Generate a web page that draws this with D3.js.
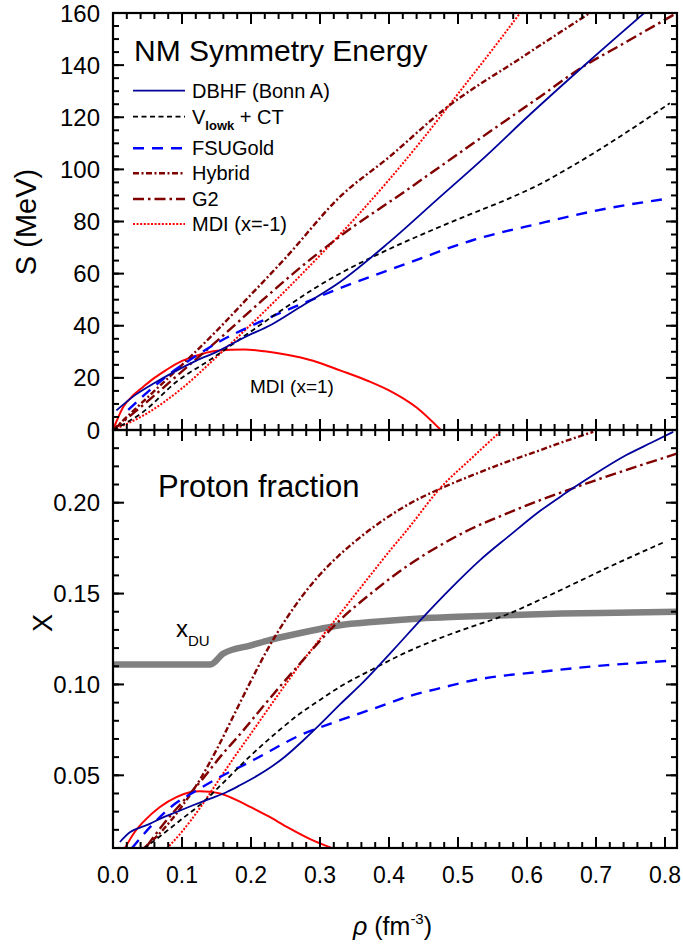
<!DOCTYPE html>
<html>
<head>
<meta charset="utf-8">
<script src="https://cdn.jsdelivr.net/npm/d3@7/dist/d3.min.js"></script>
<style>
  html, body { margin: 0; padding: 0; background: #fff; }
  svg { display: block; }
  text { font-family: Arial, "Liberation Sans", sans-serif; fill: #000; }
</style>
</head>
<body>
<svg id="chart" width="683" height="944"></svg>
<script>
// ---- Symmetry energy S(rho) [MeV] ----
const sDbhfRho  = [0.005, 0.03, 0.06, 0.09, 0.12, 0.15, 0.19, 0.23, 0.27, 0.33, 0.40, 0.47, 0.54, 0.60, 0.69, 0.77];
const sDbhf     = [7.5, 13, 18, 22.5, 26.5, 30, 35.5, 40.5, 47, 57, 72, 88.5, 105, 120, 141.5, 160];

const sVlowkRho = [0, 0.044, 0.092, 0.141, 0.189, 0.228, 0.25, 0.29, 0.33, 0.377, 0.42, 0.474, 0.52, 0.571, 0.62, 0.667, 0.74, 0.807];
const sVlowk    = [0, 7, 18.5, 27, 35.8, 43, 47, 54, 60.2, 66.5, 71.8, 78, 83, 88.5, 94.5, 101.5, 113.5, 125.4];

const sFsuRho   = [0.022, 0.05, 0.083, 0.115, 0.15, 0.208, 0.27, 0.329, 0.426, 0.522, 0.619, 0.716, 0.807];
const sFsu      = [7.7, 14.5, 21.7, 27.5, 33.3, 40.9, 48, 54.4, 63.9, 72.9, 79.3, 85, 88.9];

const sHybridRho = [0, 0.05, 0.1, 0.15, 0.193, 0.25, 0.329, 0.401, 0.479, 0.595, 0.691];
const sHybrid    = [0, 12.5, 25, 38, 50, 66, 89.5, 104.9, 122.8, 143.4, 160];

const sG2Rho    = [0, 0.05, 0.1, 0.15, 0.217, 0.27, 0.329, 0.426, 0.522, 0.619, 0.677, 0.74, 0.817];
const sG2       = [0, 11, 22.5, 34, 49.9, 62, 74.3, 92.1, 110, 127.9, 138.7, 148.3, 160];

const sMdiMRho  = [0, 0.05, 0.1, 0.15, 0.2, 0.25, 0.3, 0.35, 0.4, 0.45, 0.5, 0.55, 0.59];
const sMdiM     = [0, 6.5, 16, 28, 40.5, 53.5, 67, 81, 96, 112, 129, 146, 160];

const sMdiPRho  = [0, 0.015, 0.03, 0.044, 0.06, 0.077, 0.1, 0.116, 0.15, 0.19, 0.22, 0.25, 0.29, 0.33, 0.37, 0.4, 0.44, 0.475];
const sMdiP     = [0, 8.9, 13.5, 16.6, 20, 23, 26.5, 28.1, 30.4, 30.9, 30.2, 29, 26.6, 22.8, 18.8, 15.2, 8.6, 0];

// ---- Proton fraction x(rho) ----
const xDbhfRho  = [0.01, 0.025, 0.039, 0.054, 0.068, 0.092, 0.116, 0.141, 0.165, 0.184, 0.223, 0.25, 0.276, 0.3, 0.329, 0.363, 0.406, 0.45, 0.49, 0.532, 0.575, 0.614, 0.655, 0.696, 0.744, 0.78, 0.812];
const xDbhf     = [0.0133, 0.0188, 0.0212, 0.0234, 0.026, 0.0298, 0.0335, 0.0372, 0.0408, 0.0445, 0.053, 0.0605, 0.0693, 0.078, 0.089, 0.1014, 0.1189, 0.1372, 0.153, 0.1684, 0.182, 0.1941, 0.205, 0.2152, 0.2262, 0.233, 0.239];

const xVlowkRho = [0.045, 0.07, 0.1, 0.13, 0.16, 0.2, 0.24, 0.271, 0.3, 0.329, 0.377, 0.42, 0.474, 0.52, 0.571, 0.62, 0.667, 0.72, 0.8];
const xVlowk    = [0.0097, 0.017, 0.026, 0.035, 0.046, 0.061, 0.0745, 0.084, 0.0915, 0.0987, 0.1085, 0.1168, 0.1255, 0.1318, 0.1385, 0.1468, 0.1552, 0.1648, 0.1785];

const xFsuRho   = [0.027, 0.054, 0.087, 0.12, 0.15, 0.203, 0.271, 0.329, 0.38, 0.426, 0.48, 0.522, 0.57, 0.619, 0.67, 0.716, 0.76, 0.807];
const xFsu      = [0.0097, 0.0216, 0.0335, 0.0414, 0.048, 0.0583, 0.072, 0.0803, 0.087, 0.0932, 0.0985, 0.1023, 0.105, 0.1069, 0.109, 0.1106, 0.1118, 0.113];

const xHybridRho = [0.044, 0.07, 0.1, 0.125, 0.15, 0.175, 0.2, 0.225, 0.25, 0.275, 0.3, 0.329, 0.36, 0.392, 0.43, 0.479, 0.53, 0.571, 0.62, 0.643, 0.696];
const xHybrid    = [0.0097, 0.019, 0.033, 0.047, 0.064, 0.083, 0.102, 0.12, 0.1355, 0.149, 0.1605, 0.1715, 0.1815, 0.1905, 0.1995, 0.2085, 0.2165, 0.2225, 0.229, 0.2322, 0.239];

const xG2Rho    = [0.049, 0.075, 0.107, 0.13, 0.155, 0.185, 0.213, 0.24, 0.271, 0.3, 0.329, 0.377, 0.42, 0.474, 0.52, 0.571, 0.62, 0.667, 0.7, 0.74, 0.817];
const xG2       = [0.011, 0.024, 0.038, 0.048, 0.060, 0.073, 0.0858, 0.098, 0.1115, 0.124, 0.1354, 0.151, 0.1635, 0.1765, 0.1858, 0.1941, 0.2015, 0.208, 0.2124, 0.2175, 0.227];

const xMdiMRho  = [0.078, 0.1, 0.126, 0.15, 0.174, 0.2, 0.223, 0.25, 0.271, 0.3, 0.322, 0.35, 0.377, 0.401, 0.426, 0.474, 0.522, 0.561];
const xMdiM     = [0.0097, 0.019, 0.032, 0.0455, 0.059, 0.073, 0.0855, 0.100, 0.111, 0.125, 0.1355, 0.149, 0.162, 0.1735, 0.1849, 0.2079, 0.2253, 0.239];

const xMdiPRho  = [0.017, 0.03, 0.044, 0.068, 0.092, 0.11, 0.126, 0.14, 0.155, 0.184, 0.199, 0.225, 0.252, 0.285, 0.319];
const xMdiP     = [0.0097, 0.018, 0.0244, 0.0326, 0.038, 0.0405, 0.0412, 0.041, 0.040, 0.0355, 0.0326, 0.0275, 0.0216, 0.015, 0.0097];

// Direct-Urca threshold
const xDuRho    = [0, 0.141, 0.16, 0.2, 0.223, 0.25, 0.3, 0.329, 0.38, 0.445, 0.5, 0.571, 0.65, 0.73, 0.82];
const xDu       = [0.111, 0.111, 0.117, 0.1215, 0.124, 0.1265, 0.1305, 0.1326, 0.1345, 0.1363, 0.1372, 0.1381, 0.139, 0.1395, 0.140];

// ---- axis ticks ----
const rhoTicks  = [0.0, 0.1, 0.2, 0.3, 0.4, 0.5, 0.6, 0.7, 0.8];
const sTicks    = [0, 20, 40, 60, 80, 100, 120, 140, 160];
const xTicks    = [0.05, 0.10, 0.15, 0.20];

// ---- legend entries ----
const legendNames = ["DBHF (Bonn A)", "Vlowk + CT", "FSUGold", "Hybrid", "G2", "MDI (x=-1)"];

// ---- line styles ----
const styles = {
  dbhf:   { stroke: "#00009c", width: 1.8, dash: null },
  vlowk:  { stroke: "#000000", width: 1.8, dash: "5,3.5" },
  fsu:    { stroke: "#0000ff", width: 2.4, dash: "11,8" },
  hybrid: { stroke: "#800000", width: 2.4, dash: "6,2.5,2,2.5" },
  g2:     { stroke: "#800000", width: 2.4, dash: "11,4,2.5,4" },
  mdiM:   { stroke: "#ff0000", width: 2.0, dash: "2,1.6" },
  mdiP:   { stroke: "#ff0000", width: 2.0, dash: null }
};

const svg = d3.select("#chart");
const L = 113, R = 677, T = 13, M = 430, B = 848;

const x = d3.scaleLinear().domain([0, 0.8174]).range([L, R]);
const yS = d3.scaleLinear().domain([0, 160]).range([M, T]);
const yX = d3.scaleLinear().domain([0.01, 0.24]).range([B, M]);

const defs = svg.append("defs");
defs.append("clipPath").attr("id", "clipTop")
  .append("rect").attr("x", L).attr("y", T).attr("width", R - L).attr("height", M - T);
defs.append("clipPath").attr("id", "clipBot")
  .append("rect").attr("x", L).attr("y", M).attr("width", R - L).attr("height", B - M);

function zipPts(rs, vs) { return rs.map((r, i) => [r, vs[i]]); }

function drawSeries(g, yScale, rs, vs, st) {
  const line = d3.line()
    .x(d => x(d[0]))
    .y(d => yScale(d[1]))
    .curve(d3.curveMonotoneX);
  g.append("path")
    .datum(zipPts(rs, vs))
    .attr("d", line)
    .attr("fill", "none")
    .attr("stroke", st.stroke)
    .attr("stroke-width", st.width)
    .attr("stroke-dasharray", st.dash)
    .attr("stroke-linejoin", "round");
}

// ---- upper panel: symmetry energy ----
const gTop = svg.append("g").attr("clip-path", "url(#clipTop)");
drawSeries(gTop, yS, sMdiPRho, sMdiP, styles.mdiP);
drawSeries(gTop, yS, sMdiMRho, sMdiM, styles.mdiM);
drawSeries(gTop, yS, sG2Rho, sG2, styles.g2);
drawSeries(gTop, yS, sHybridRho, sHybrid, styles.hybrid);
drawSeries(gTop, yS, sFsuRho, sFsu, styles.fsu);
drawSeries(gTop, yS, sVlowkRho, sVlowk, styles.vlowk);
drawSeries(gTop, yS, sDbhfRho, sDbhf, styles.dbhf);

// ---- lower panel: proton fraction ----
const gBot = svg.append("g").attr("clip-path", "url(#clipBot)");
gBot.append("path")
  .datum(zipPts(xDuRho, xDu))
  .attr("d", d3.line().x(d => x(d[0])).y(d => yX(d[1])).curve(d3.curveMonotoneX))
  .attr("fill", "none").attr("stroke", "#808080").attr("stroke-width", 6.5);
drawSeries(gBot, yX, xMdiPRho, xMdiP, styles.mdiP);
drawSeries(gBot, yX, xMdiMRho, xMdiM, styles.mdiM);
drawSeries(gBot, yX, xG2Rho, xG2, styles.g2);
drawSeries(gBot, yX, xHybridRho, xHybrid, styles.hybrid);
drawSeries(gBot, yX, xFsuRho, xFsu, styles.fsu);
drawSeries(gBot, yX, xVlowkRho, xVlowk, styles.vlowk);
drawSeries(gBot, yX, xDbhfRho, xDbhf, styles.dbhf);

// ---- axes (inward ticks on all four sides of each panel) ----
const MAJ = 11, MIN = 6, TW = 2;
const rhoMinor = d3.range(0, 0.8174, 0.02);

function hTicks(yPos, dir) {
  const g = svg.append("g");
  g.selectAll("line.mn").data(rhoMinor).join("line")
    .attr("x1", d => x(d)).attr("x2", d => x(d))
    .attr("y1", yPos).attr("y2", yPos + dir * MIN)
    .attr("stroke", "#000").attr("stroke-width", TW);
  g.selectAll("line.mj").data(rhoTicks).join("line")
    .attr("x1", d => x(d)).attr("x2", d => x(d))
    .attr("y1", yPos).attr("y2", yPos + dir * MAJ)
    .attr("stroke", "#000").attr("stroke-width", TW);
}
function vTicks(scale, minor, major) {
  const g = svg.append("g");
  [[L, 1], [R, -1]].forEach(([xp, dir]) => {
    g.selectAll(null).data(minor).join("line")
      .attr("x1", xp).attr("x2", xp + dir * MIN)
      .attr("y1", d => scale(d)).attr("y2", d => scale(d))
      .attr("stroke", "#000").attr("stroke-width", TW);
    g.selectAll(null).data(major).join("line")
      .attr("x1", xp).attr("x2", xp + dir * MAJ)
      .attr("y1", d => scale(d)).attr("y2", d => scale(d))
      .attr("stroke", "#000").attr("stroke-width", TW);
  });
}

hTicks(T, 1); hTicks(M, -1); hTicks(M, 1); hTicks(B, -1);
vTicks(yS, d3.range(0, 160.1, 5), sTicks);
vTicks(yX, d3.range(0.01, 0.2401, 0.01).map(v => +v.toFixed(3)), [0.05, 0.10, 0.15, 0.20]);

// frames
svg.append("rect").attr("x", L).attr("y", T).attr("width", R - L).attr("height", M - T)
  .attr("fill", "none").attr("stroke", "#000").attr("stroke-width", 2.2);
svg.append("rect").attr("x", L).attr("y", M).attr("width", R - L).attr("height", B - M)
  .attr("fill", "none").attr("stroke", "#000").attr("stroke-width", 2.2);

// tick labels
svg.append("g").selectAll("text").data(sTicks).join("text")
  .attr("x", 100).attr("y", d => yS(d) + 8.5)
  .attr("text-anchor", "end").attr("font-size", 24)
  .text(d => d);
svg.append("g").selectAll("text").data(xTicks).join("text")
  .attr("x", 100).attr("y", d => yX(d) + 8.5)
  .attr("text-anchor", "end").attr("font-size", 24)
  .text(d => d.toFixed(2));
svg.append("g").selectAll("text").data(rhoTicks).join("text")
  .attr("x", d => x(d)).attr("y", 883)
  .attr("text-anchor", "middle").attr("font-size", 23)
  .text(d => d.toFixed(1));

// axis titles
svg.append("text")
  .attr("transform", "translate(36,222) rotate(-90)")
  .attr("text-anchor", "middle").attr("font-size", 29)
  .text("S (MeV)");
svg.append("text")
  .attr("transform", "translate(52,623) rotate(-90)")
  .attr("text-anchor", "middle").attr("font-size", 27)
  .text("X");
const xt = svg.append("text").attr("x", 353).attr("y", 935).attr("font-size", 25);
xt.append("tspan").attr("font-style", "italic").text("ρ");
xt.append("tspan").text(" (fm");
xt.append("tspan").attr("font-size", 15).attr("dy", -11).text("-3");
xt.append("tspan").attr("dy", 11).text(")");

// panel titles and annotations
svg.append("text").attr("x", 134).attr("y", 61).attr("font-size", 30).text("NM Symmetry Energy");
svg.append("text").attr("x", 158).attr("y", 497).attr("font-size", 31).text("Proton fraction");
svg.append("text").attr("x", 250).attr("y", 393).attr("font-size", 19).text("MDI (x=1)");
const du = svg.append("text").attr("x", 176).attr("y", 637).attr("font-size", 24);
du.append("tspan").text("x");
du.append("tspan").attr("font-size", 15).attr("dy", 9).text("DU");

// legend
const legendKeys = ["dbhf", "vlowk", "fsu", "hybrid", "g2", "mdiM"];
const legendY = [90.7, 116.7, 148.3, 173.3, 199, 224];
legendKeys.forEach((k, i) => {
  const st = styles[k];
  svg.append("line")
    .attr("x1", 133).attr("x2", 185)
    .attr("y1", legendY[i]).attr("y2", legendY[i])
    .attr("stroke", st.stroke).attr("stroke-width", st.width)
    .attr("stroke-dasharray", st.dash);
  const t = svg.append("text").attr("x", 192).attr("y", legendY[i] + 7).attr("font-size", 20);
  if (k === "vlowk") {
    t.append("tspan").text("V");
    t.append("tspan").attr("font-size", 13).attr("font-weight", "bold").attr("dy", 6).text("lowk");
    t.append("tspan").attr("dy", -6).text(" + CT");
  } else {
    t.text(legendNames[i]);
  }
});
</script>
</body>
</html>
